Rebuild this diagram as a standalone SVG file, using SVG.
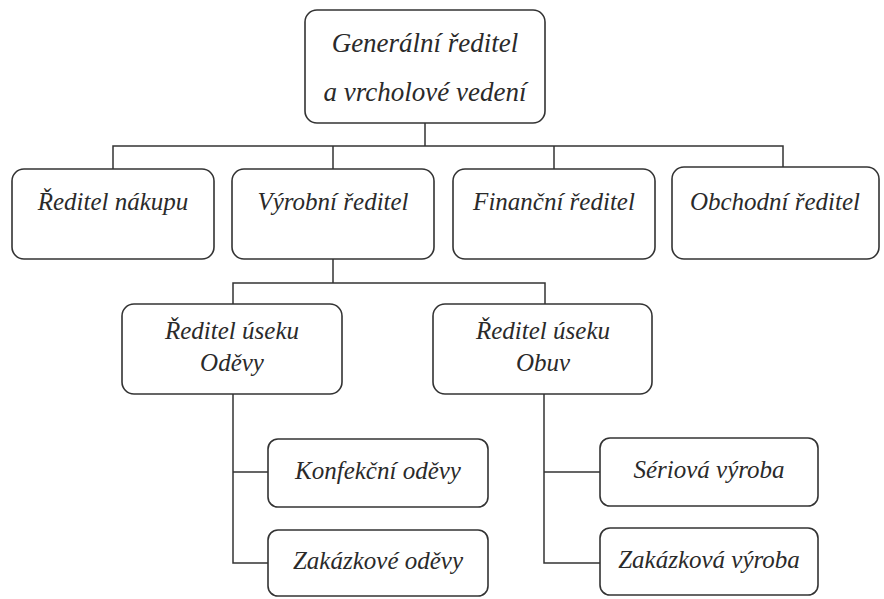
<svg xmlns="http://www.w3.org/2000/svg" width="884" height="599" viewBox="0 0 884 599">
<defs>
<style>
.box{fill:#fff;stroke:#333;stroke-width:1.6}
.c{fill:none;stroke:#333;stroke-width:1.5}
</style>
</defs>
<rect width="884" height="599" fill="#fff"/>
<g id="connectors">
<path class="c" d="M425 123V146M113 169V146H783V167M333 146V169M554 146V169"/>
<path class="c" d="M333 259V283M233 304V283H545V304"/>
<path class="c" d="M233 394V563H268M233 472H268"/>
<path class="c" d="M544 394V563H600M544 472H600"/>
</g>
<g font-family="Liberation Serif, DejaVu Serif, serif" font-style="italic" font-size="25" fill="#2a2a2a" text-anchor="middle">
<g id="n-general">
<rect class="box" x="305" y="10" width="240" height="113" rx="12"/>
<text font-size="27" x="425" y="52">Generální ředitel</text>
<text font-size="27" x="425" y="101">a vrcholové vedení</text>
</g>
<g id="n-nakup">
<rect class="box" x="12" y="169" width="202" height="90" rx="12"/>
<text x="113" y="210">Ředitel nákupu</text>
</g>
<g id="n-vyroba">
<rect class="box" x="232" y="169" width="202" height="90" rx="12"/>
<text x="333" y="210">Výrobní ředitel</text>
</g>
<g id="n-finance">
<rect class="box" x="453" y="169" width="202" height="90" rx="12"/>
<text x="554" y="210">Finanční ředitel</text>
</g>
<g id="n-obchod">
<rect class="box" x="672" y="167" width="207" height="92" rx="12"/>
<text x="775" y="210">Obchodní ředitel</text>
</g>
<g id="n-odevy">
<rect class="box" x="122" y="304" width="220" height="90" rx="12"/>
<text x="232" y="339">Ředitel úseku</text>
<text x="232" y="371">Oděvy</text>
</g>
<g id="n-obuv">
<rect class="box" x="433" y="304" width="219" height="90" rx="12"/>
<text x="543" y="339">Ředitel úseku</text>
<text x="543" y="371">Obuv</text>
</g>
<g id="n-konfekcni">
<rect class="box" x="268" y="439" width="220" height="68" rx="10"/>
<text x="378" y="479">Konfekční oděvy</text>
</g>
<g id="n-zakazkove">
<rect class="box" x="268" y="530" width="220" height="66" rx="10"/>
<text x="378" y="569">Zakázkové oděvy</text>
</g>
<g id="n-seriova">
<rect class="box" x="600" y="438" width="218" height="68" rx="10"/>
<text x="709" y="478">Sériová výroba</text>
</g>
<g id="n-zakazkova">
<rect class="box" x="600" y="528" width="218" height="67" rx="10"/>
<text x="709" y="568">Zakázková výroba</text>
</g>
</g>
</svg>
